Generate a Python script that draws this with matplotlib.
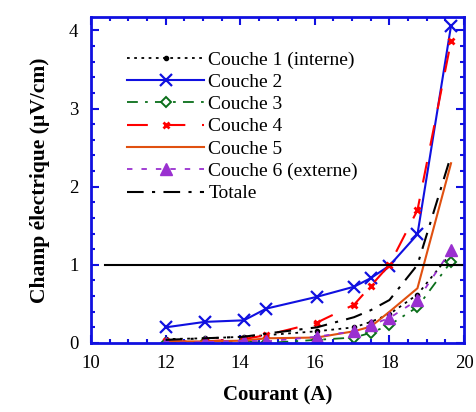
import matplotlib
matplotlib.use("Agg")
import matplotlib.pyplot as plt
from matplotlib.ticker import MultipleLocator

plt.rcParams['font.family'] = ['Liberation Serif', 'DejaVu Serif']

# courant (A)
courant = [12.0, 13.05, 14.1, 14.7, 16.05, 17.05, 17.5, 18.0, 18.75, 19.65]

# champ electrique (uV/cm) par couche
couche1 = [0.05, 0.06, 0.08, 0.10, 0.15, 0.20, 0.27, 0.37, 0.62, 1.15]
couche2 = [0.20, 0.27, 0.29, 0.44, 0.59, 0.72, 0.83, 0.99, 1.39, 4.06]
couche3 = [0.00, 0.01, 0.02, 0.00, 0.04, 0.07, 0.13, 0.23, 0.46, 1.04]
couche4 = [0.02, 0.02, 0.05, 0.10, 0.26, 0.49, 0.73, 1.00, 1.70, 3.86]
couche5 = [0.02, 0.02, 0.03, 0.06, 0.07, 0.15, 0.21, 0.40, 0.70, 2.30]
couche6 = [0.00, 0.01, 0.03, 0.02, 0.08, 0.15, 0.23, 0.32, 0.55, 1.19]
totale = [0.04, 0.06, 0.08, 0.12, 0.20, 0.33, 0.42, 0.55, 1.00, 2.40]

labels = ['Couche 1 (interne)', 'Couche 2', 'Couche 3', 'Couche 4',
          'Couche 5', 'Couche 6 (externe)', 'Totale']
seuil = 1.0

fig = plt.figure(figsize=(4.76, 4.12), dpi=100)
ax = fig.add_axes([0.191, 0.1675, 0.784, 0.791])

ax.plot(courant, couche1, color='black', ls=(0, (1.5, 2.5)), lw=1.3,
        marker='o', ms=3, label=labels[0])
ax.plot(courant, couche2, color='#1010e0', ls='-', lw=1.5,
        marker='x', ms=9, mew=1.6, label=labels[1])
ax.plot(courant, couche3, color='#0a6e1a', ls=(0, (6, 4, 1.5, 4)), lw=1.3,
        marker='D', ms=5, mfc='white', mew=1.4, label=labels[2])
ax.plot(courant, couche4, color='red', ls=(0, (10, 8)), lw=1.5,
        marker='x', ms=5, mew=2, label=labels[3])
ax.plot(courant, couche5, color='#e05010', ls='-', lw=1.5, label=labels[4])
ax.plot(courant, couche6, color='#9a30d0', ls=(0, (3, 5)), lw=1.3,
        marker='^', ms=8, label=labels[5])
ax.plot(courant, totale, color='black', ls=(0, (8, 4, 1.5, 4)), lw=1.5,
        label=labels[6])

ax.plot([10.37, 20], [seuil, seuil], color='black', lw=1.5)

ax.set_xlim(10, 20)
ax.set_ylim(0, 4.17)
ax.xaxis.set_major_locator(MultipleLocator(2))
ax.xaxis.set_minor_locator(MultipleLocator(0.5))
ax.yaxis.set_major_locator(MultipleLocator(1))
ax.yaxis.set_minor_locator(MultipleLocator(0.2))
ax.tick_params(which='both', direction='in', top=True, right=True,
               color='#1010e0', labelsize=13.5, width=1.5)
ax.tick_params(which='major', length=6, pad=9)
ax.tick_params(which='minor', length=3)
for s in ax.spines.values():
    s.set_color('#1010e0')
    s.set_linewidth(2)

ax.set_xlabel('Courant (A)', fontsize=15, fontweight='bold', labelpad=9)
ax.set_ylabel('Champ électrique (µV/cm)', fontsize=15.5, fontweight='bold',
              labelpad=14)

ax.legend(loc='upper left', bbox_to_anchor=(0.075, 0.92), frameon=False,
          fontsize=14, handlelength=4.0, handletextpad=0.2,
          labelspacing=0.24, borderaxespad=0)

fig.savefig('out.png', dpi=100)
